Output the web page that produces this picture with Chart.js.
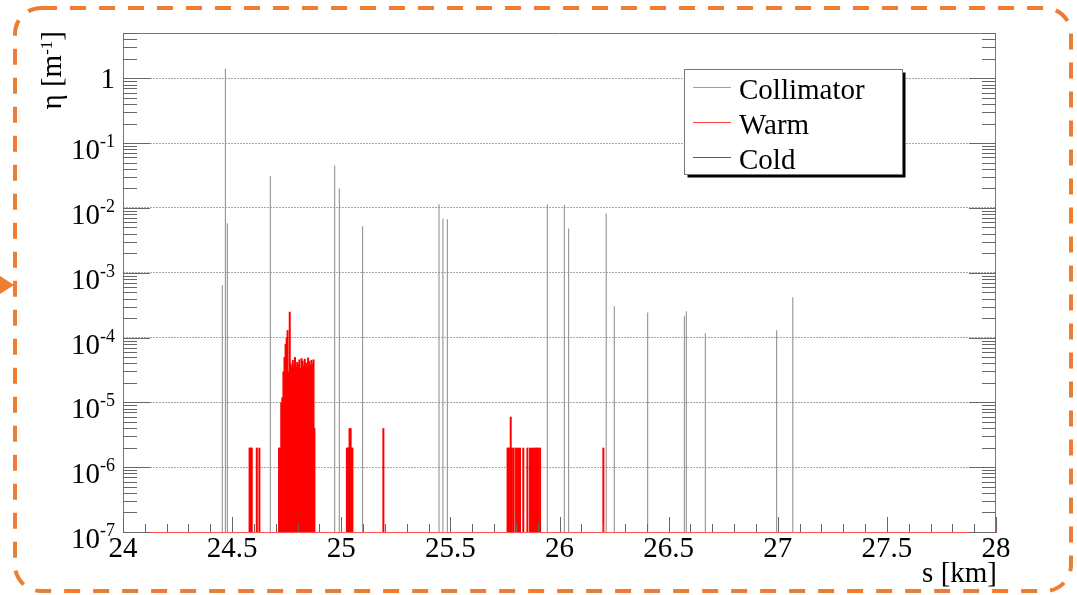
<!DOCTYPE html>
<html>
<head>
<meta charset="utf-8">
<script src="https://cdn.jsdelivr.net/npm/chart.js@4.4.1/dist/chart.umd.min.js"></script>
<style>
  html, body { margin: 0; padding: 0; background: #fff; }
  #wrap { width: 1077px; height: 595px; position: relative; }
</style>
</head>
<body>
<div id="wrap"><canvas id="lossMap"></canvas></div>
<script>
// Loss map: eta [1/m] along s [km]

const collimatorS = [24.455, 24.469, 24.478, 24.675, 24.970, 24.991, 25.098, 25.448, 25.466, 25.486,
                     25.944, 26.022, 26.042, 26.214, 26.251, 26.404, 26.572, 26.581, 26.668, 26.995, 27.069];
const collimatorEta = [6.4e-4, 1.4, 5.8e-3, 0.031, 0.045, 0.020, 5.2e-3, 0.0114, 6.9e-3, 6.7e-3,
                       0.0114, 0.0112, 4.8e-3, 8.2e-3, 3.05e-4, 2.44e-4, 2.14e-4, 2.55e-4, 1.17e-4, 1.3e-4, 4.2e-4];

const warmS = [24.580, 24.585, 24.590, 24.613, 24.625,
               24.715, 24.720, 24.725, 24.730, 24.735, 24.740, 24.745, 24.750, 24.754, 24.757, 24.7605, 24.764,
               24.768, 24.773, 24.778, 24.783, 24.788, 24.793, 24.798, 24.803, 24.808, 24.813, 24.818,
               24.823, 24.828, 24.833, 24.838, 24.843, 24.848, 24.853, 24.858, 24.863, 24.868, 24.873, 24.877,
               25.026, 25.030, 25.034, 25.038, 25.043, 25.047, 25.051,
               25.193,
               25.762, 25.767, 25.771, 25.7765, 25.782, 25.790, 25.801, 25.810, 25.819, 25.834, 25.853,
               25.865, 25.874, 25.883, 25.890, 25.897, 25.904, 25.911,
               26.201];
const warmEta = [2e-6, 2e-6, 2e-6, 2e-6, 2e-6,
                 2e-6, 2e-6, 1e-5, 1.2e-5, 3e-5, 5e-5, 8e-5, 1.0e-4, 1.3e-4, 3e-5, 2e-6, 2.5e-4,
                 4.0e-5, 3.6e-5, 4.5e-5, 3.8e-5, 5.0e-5, 3.5e-5, 4.2e-5, 3.9e-5, 4.6e-5, 3.4e-5, 4.8e-5,
                 4.4e-5, 3.7e-5, 4.7e-5, 4.1e-5, 3.6e-5, 4.9e-5, 4.3e-5, 3.8e-5, 4.5e-5, 4.0e-5, 4.6e-5, 4e-6,
                 2e-6, 2e-6, 2e-6, 4e-6, 4e-6, 2e-6, 2e-6,
                 4e-6,
                 2e-6, 2e-6, 2e-6, 6e-6, 2e-6, 2e-6, 2e-6, 2e-6, 2e-6, 2e-6, 2e-6,
                 2e-6, 2e-6, 2e-6, 2e-6, 2e-6, 2e-6, 2e-6,
                 2e-6];

const coldS = [];
const coldEta = [];

const xTickValues = [24, 24.5, 25, 25.5, 26, 26.5, 27, 27.5, 28];
const yDecades = [1e-7, 1e-6, 1e-5, 1e-4, 1e-3, 1e-2, 1e-1, 1];

const FONT = '"Liberation Serif", "Times New Roman", serif';
const ORANGE = '#ed7d31';

function toPoints(xs, ys) {
    return xs.map((x, i) => ({ x: x, y: ys[i] }));
}

// ROOT-like frame, inward ticks, labels, legend box and the outer dashed box
const rootStyle = {
    id: 'rootStyle',
    afterDraw(chart) {
        const ctx = chart.ctx;
        const a = chart.chartArea;
        const xs = chart.scales.x;
        const ys = chart.scales.y;
        ctx.save();

        // frame (bottom edge is the x-axis border)
        ctx.strokeStyle = '#777';
        ctx.lineWidth = 1;
        ctx.beginPath();
        ctx.moveTo(a.left + 0.5, a.bottom);
        ctx.lineTo(a.left + 0.5, a.top + 0.5);
        ctx.lineTo(a.right - 0.5, a.top + 0.5);
        ctx.lineTo(a.right - 0.5, a.bottom);
        ctx.stroke();

        // ticks
        ctx.strokeStyle = '#666';
        ctx.beginPath();
        for (let i = 0; i <= 40; i++) {
            const px = Math.round(xs.getPixelForValue((240 + i) / 10)) + 0.5;
            const len = i % 5 === 0 ? 15 : 8;
            ctx.moveTo(px, a.bottom);
            ctx.lineTo(px, a.bottom - len);
        }
        for (const d of yDecades) {
            for (let k = 1; k <= 9; k++) {
                const v = d * k;
                if (v > ys.max * 1.0001) break;
                const py = Math.round(ys.getPixelForValue(v)) + 0.5;
                const len = k === 1 ? 27 : 14;
                ctx.moveTo(a.left, py);
                ctx.lineTo(a.left + len, py);
                ctx.moveTo(a.right, py);
                ctx.lineTo(a.right - len, py);
            }
        }
        ctx.stroke();

        // y labels with exponents
        ctx.fillStyle = '#000';
        ctx.textBaseline = 'alphabetic';
        for (const d of yDecades) {
            const py = ys.getPixelForValue(d);
            const e = Math.round(Math.log10(d));
            if (e === 0) {
                ctx.font = '29px ' + FONT;
                ctx.textAlign = 'right';
                ctx.fillText('1', 115, py + 10);
            } else {
                const sup = String(e);
                ctx.textAlign = 'left';
                ctx.font = '18px ' + FONT;
                const sw = ctx.measureText(sup).width;
                ctx.font = '29px ' + FONT;
                const bw = ctx.measureText('10').width;
                const x0 = 115 - sw - bw;
                ctx.fillText('10', x0, py + 16);
                ctx.font = '18px ' + FONT;
                ctx.fillText(sup, x0 + bw, py + 4);
            }
        }

        // axis titles
        ctx.font = '29px ' + FONT;
        ctx.textAlign = 'right';
        ctx.fillText('s [km]', 997, 582);

        ctx.save();
        ctx.translate(61, 31);
        ctx.rotate(-Math.PI / 2);
        ctx.textAlign = 'left';
        ctx.font = '29px ' + FONT;
        const wA = ctx.measureText('\u03b7 [m').width;
        const wC = ctx.measureText(']').width;
        ctx.font = '17px ' + FONT;
        const wB = ctx.measureText('-1').width;
        let u = -(wA + wB + wC);
        ctx.font = '29px ' + FONT;
        ctx.fillText('\u03b7 [m', u, 0);
        u += wA;
        ctx.font = '17px ' + FONT;
        ctx.fillText('-1', u, -9);
        u += wB;
        ctx.font = '29px ' + FONT;
        ctx.fillText(']', u, 0);
        ctx.restore();

        // legend
        const lx = 684.5, ly = 69.5, lw = 218, lh = 105;
        ctx.fillStyle = '#000';
        ctx.fillRect(lx + 3, ly + 3, lw, lh);
        ctx.fillStyle = '#fff';
        ctx.fillRect(lx, ly, lw, lh);
        ctx.strokeStyle = '#777';
        ctx.strokeRect(lx, ly, lw, lh);
        ctx.font = '29px ' + FONT;
        ctx.textAlign = 'left';
        chart.data.datasets.forEach((ds, i) => {
            const yy = 87 + i * 35;
            ctx.strokeStyle = ds.legendColor;
            ctx.beginPath();
            ctx.moveTo(693, yy + 0.5);
            ctx.lineTo(731, yy + 0.5);
            ctx.stroke();
            ctx.fillStyle = '#000';
            ctx.fillText(ds.label, 739, yy + 12);
        });

        // outer dashed rounded box
        const bx = 15, by = 8, bw2 = 1056, bh = 583, r = 26;
        ctx.strokeStyle = ORANGE;
        ctx.lineWidth = 4;
        ctx.setLineDash([16, 13]);
        ctx.beginPath();
        ctx.moveTo(bx + r, by);
        ctx.lineTo(bx + bw2 - r, by);
        ctx.arcTo(bx + bw2, by, bx + bw2, by + r, r);
        ctx.lineTo(bx + bw2, by + bh - r);
        ctx.arcTo(bx + bw2, by + bh, bx + bw2 - r, by + bh, r);
        ctx.lineTo(bx + r, by + bh);
        ctx.arcTo(bx, by + bh, bx, by + bh - r, r);
        ctx.lineTo(bx, by + r);
        ctx.arcTo(bx, by, bx + r, by, r);
        ctx.stroke();
        ctx.setLineDash([]);

        ctx.fillStyle = ORANGE;
        ctx.beginPath();
        ctx.moveTo(0, 276);
        ctx.lineTo(14, 285);
        ctx.lineTo(0, 294);
        ctx.closePath();
        ctx.fill();

        ctx.restore();
    }
};

new Chart(document.getElementById('lossMap'), {
    type: 'bar',
    data: {
        datasets: [
            {
                label: 'Collimator',
                data: toPoints(collimatorS, collimatorEta),
                backgroundColor: '#888888',
                legendColor: '#a0a0a0',
                barThickness: 1,
                inflateAmount: 0
            },
            {
                label: 'Warm',
                data: toPoints(warmS, warmEta),
                backgroundColor: '#ff0000',
                legendColor: '#ff4040',
                barThickness: 2,
                inflateAmount: 0
            },
            {
                label: 'Cold',
                data: toPoints(coldS, coldEta),
                backgroundColor: '#0000ff',
                legendColor: '#4848ff',
                barThickness: 1,
                inflateAmount: 0
            }
        ]
    },
    options: {
        responsive: true,
        maintainAspectRatio: false,
        animation: false,
        layout: { padding: { left: 0, right: 81, top: 33, bottom: 0 } },
        datasets: { bar: { grouped: false } },
        plugins: {
            legend: { display: false },
            tooltip: { enabled: false }
        },
        scales: {
            x: {
                type: 'linear',
                min: 24,
                max: 28,
                offset: false,
                grid: { display: false, drawTicks: false },
                border: { color: '#ff5050', width: 1 },
                afterBuildTicks: s => { s.ticks = xTickValues.map(v => ({ value: v })); },
                afterFit: s => { s.height = 63; },
                ticks: {
                    autoSkip: false,
                    maxRotation: 0,
                    padding: 0,
                    color: '#000',
                    font: { family: FONT, size: 29 },
                    callback: v => String(v)
                }
            },
            y: {
                type: 'logarithmic',
                min: 1e-7,
                max: 5,
                grid: { color: '#aaaaaa', drawTicks: false },
                border: { display: false, dash: [2, 1] },
                afterBuildTicks: s => { s.ticks = yDecades.map(v => ({ value: v })); },
                afterFit: s => { s.width = 123; },
                ticks: { display: false }
            }
        }
    },
    plugins: [rootStyle]
});
</script>
</body>
</html>
